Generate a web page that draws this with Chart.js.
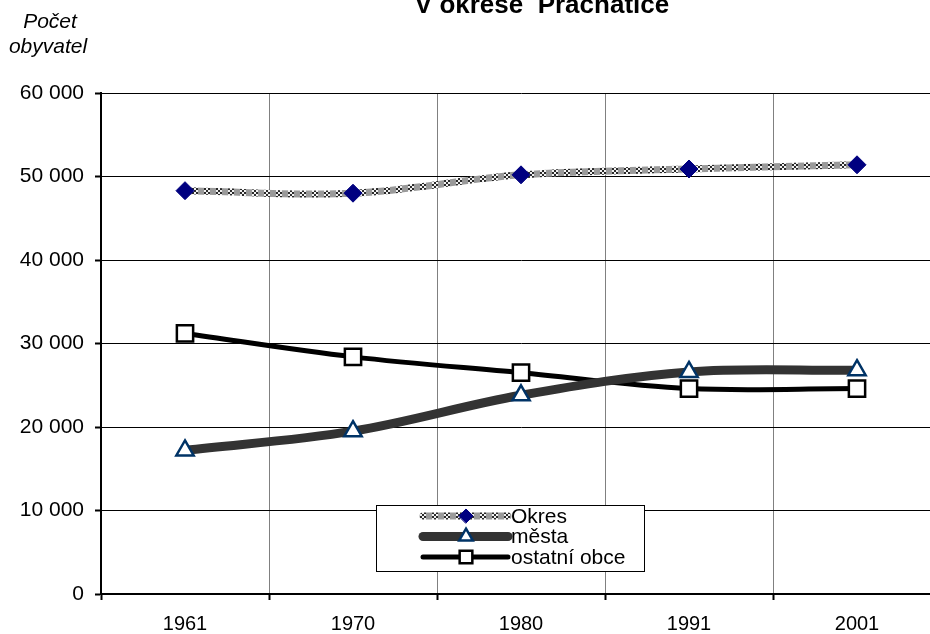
<!DOCTYPE html>
<html>
<head>
<meta charset="utf-8">
<title>V okrese Prachatice</title>
<script src="https://cdn.jsdelivr.net/npm/chart.js@4/dist/chart.umd.min.js"></script>
<style>
    html, body { margin: 0; padding: 0; background: #fff; overflow: hidden; }
    #wrap { width: 960px; height: 634px; }
</style>
</head>
<body>
<div id="wrap"><canvas id="grafik" width="960" height="634"></canvas></div>
<script>
// Roky sčítání
const roky = ['1961', '1970', '1980', '1991', '2001'];

// Počet obyvatel
const okres = [48300, 48000, 50200, 50900, 51400];
const mesta = [17200, 19500, 23800, 26600, 26800];
const ostatniObce = [31200, 28400, 26500, 24600, 24600];

// Popisky osy Y
const yTickLabels = ['0', '10 000', '20 000', '30 000', '40 000', '50 000', '60 000'];

const nazevGrafu = 'V okrese  Prachatice';
const popisOsyY = ['Počet', 'obyvatel'];

const pismo = "'Liberation Sans', Arial, sans-serif";

// šrafovaný vzor pro čáru okresu
function vytvorVzor() {
    const c = document.createElement('canvas');
    c.width = 12;
    c.height = 12;
    const g = c.getContext('2d');
    g.fillStyle = '#f2f2f2';
    g.fillRect(0, 0, 12, 12);
    for (let y = 0; y < 12; y += 2) {
        for (let x = 0; x < 6; x += 2) {
            if (((x + y) / 2) % 2 === 0) {
                g.fillStyle = '#2a2a2a';
                g.fillRect(x, y, 2, 2);
            }
        }
    }
    g.fillStyle = '#9a9a9a';
    g.fillRect(6, 0, 6, 12);
    return g.createPattern(c, 'repeat');
}

const ctx = document.getElementById('grafik').getContext('2d');
const vzorOkres = vytvorVzor();

// vlastní popisky, nadpis a legenda
const popiskyPlugin = {
    id: 'popisky',
    afterDraw(chart) {
        const c = chart.ctx;
        c.save();
        c.fillStyle = '#000';
        c.textAlign = 'center';
        c.textBaseline = 'alphabetic';
        c.font = 'bold 26px ' + pismo;
        c.fillText(nazevGrafu, 542, 13);

        c.font = 'italic 21px ' + pismo;
        c.fillText(popisOsyY[0], 50, 28);
        c.fillText(popisOsyY[1], 48, 53);

        // legenda
        const bx = 376.5, by = 505.5, bw = 268, bh = 66;
        c.fillStyle = '#fff';
        c.fillRect(bx, by, bw, bh);
        c.strokeStyle = '#000';
        c.lineWidth = 1;
        c.strokeRect(bx, by, bw, bh);

        chart.data.datasets.forEach((ds, i) => {
            const y = 516 + i * 20.5;
            c.beginPath();
            c.lineCap = 'round';
            c.strokeStyle = ds.borderColor;
            c.lineWidth = ds.borderWidth;
            c.moveTo(423, y);
            c.lineTo(508, y);
            c.stroke();

            c.fillStyle = ds.pointBackgroundColor;
            c.strokeStyle = ds.pointBorderColor;
            c.lineWidth = ds.pointBorderWidth;
            Chart.helpers.drawPoint(c, {
                pointStyle: ds.pointStyle,
                radius: ds.pointRadius * 0.78,
                rotation: 0,
                borderWidth: ds.pointBorderWidth
            }, 466, y);

            c.fillStyle = '#000';
            c.textAlign = 'left';
            c.textBaseline = 'middle';
            c.font = '21px ' + pismo;
            c.fillText(ds.label, 511, y + 1);
        });
        c.restore();
    }
};

const grafik = new Chart(ctx, {
    type: 'line',
    data: {
        labels: roky,
        datasets: [
            {
                label: 'Okres',
                data: okres,
                borderColor: vzorOkres,
                borderWidth: 7,
                pointStyle: 'rectRot',
                pointRadius: 9,
                pointBackgroundColor: '#000080',
                pointBorderColor: '#000080',
                pointBorderWidth: 1,
                tension: 0.35
            },
            {
                label: 'města',
                data: mesta,
                borderColor: '#333333',
                borderWidth: 9,
                pointStyle: 'triangle',
                pointRadius: 10,
                pointBackgroundColor: '#ffffff',
                pointBorderColor: '#003366',
                pointBorderWidth: 2.5,
                tension: 0.35
            },
            {
                label: 'ostatní obce',
                data: ostatniObce,
                borderColor: '#000000',
                borderWidth: 5,
                pointStyle: 'rect',
                pointRadius: 11.5,
                pointBackgroundColor: '#ffffff',
                pointBorderColor: '#000000',
                pointBorderWidth: 2.5,
                tension: 0.35
            }
        ]
    },
    options: {
        responsive: false,
        animation: false,
        layout: {
            padding: { top: 93, right: 19, left: 0, bottom: 0 }
        },
        plugins: {
            legend: { display: false },
            title: { display: false },
            tooltip: { enabled: false }
        },
        scales: {
            x: {
                offset: true,
                grid: {
                    offset: true,
                    color: '#808080',
                    lineWidth: 1,
                    tickLength: 6,
                    tickColor: '#000',
                    tickWidth: 2
                },
                border: { color: '#000', width: 2 },
                ticks: {
                    color: '#000',
                    padding: 12,
                    font: { family: pismo, size: 20 }
                },
                afterFit(scale) { scale.height = 40; }
            },
            y: {
                min: 0,
                max: 60000,
                grid: {
                    color: '#000',
                    lineWidth: 1,
                    tickLength: 6,
                    tickColor: '#000',
                    tickWidth: 2
                },
                border: { color: '#000', width: 2 },
                ticks: {
                    stepSize: 10000,
                    color: '#000',
                    padding: 11,
                    font: { family: pismo, size: 21 },
                    callback: (v, i) => yTickLabels[i]
                },
                afterFit(scale) { scale.width = 101; }
            }
        }
    },
    plugins: [popiskyPlugin]
});
</script>
</body>
</html>
